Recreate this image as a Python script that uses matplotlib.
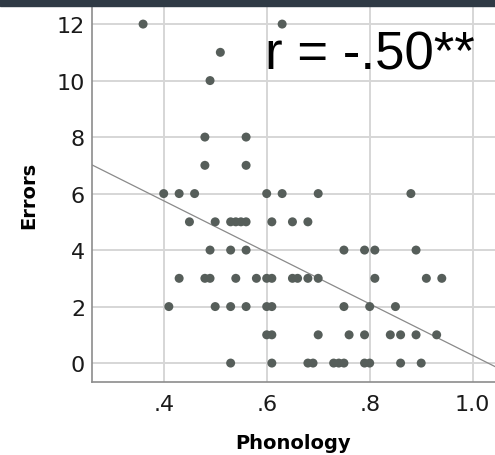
import numpy as np
import matplotlib
matplotlib.use("Agg")
import matplotlib.pyplot as plt
from matplotlib.patches import Rectangle

# Phonology score per child, grouped by Errors value
phon_12 = [0.36, 0.63]
phon_11 = [0.51]
phon_10 = [0.49]
phon_8 = [0.48, 0.56]
phon_7 = [0.48, 0.56]
phon_6 = [0.40, 0.43, 0.46, 0.60, 0.63, 0.70, 0.88]
phon_5 = [0.45, 0.50, 0.53, 0.54, 0.55, 0.56, 0.61, 0.65, 0.68]
phon_4 = [0.49, 0.53, 0.56, 0.75, 0.79, 0.81, 0.89]
phon_3 = [0.43, 0.48, 0.49, 0.54, 0.58, 0.60, 0.61, 0.65, 0.66, 0.68, 0.70, 0.81, 0.91, 0.94]
phon_2 = [0.41, 0.50, 0.53, 0.56, 0.60, 0.61, 0.75, 0.80, 0.85]
phon_1 = [0.60, 0.61, 0.70, 0.76, 0.79, 0.84, 0.86, 0.89, 0.93]
phon_0 = [0.53, 0.61, 0.68, 0.69, 0.73, 0.74, 0.75, 0.79, 0.80, 0.86, 0.90]

groups = {12: phon_12, 11: phon_11, 10: phon_10, 8: phon_8, 7: phon_7, 6: phon_6,
          5: phon_5, 4: phon_4, 3: phon_3, 2: phon_2, 1: phon_1, 0: phon_0}

x_ticks = [0.4, 0.6, 0.8, 1.0]
x_ticklabels = [".4", ".6", ".8", "1.0"]
y_ticks = [0, 2, 4, 6, 8, 10, 12]
r_label = "r = -.50**"

phon = np.array([v for k, vals in groups.items() for v in vals])
errs = np.array([k for k, vals in groups.items() for v in vals], dtype=float)

fig = plt.figure(figsize=(4.95, 4.56), dpi=100)
fig.patches.append(Rectangle((0, 449 / 456), 1, 7 / 456, transform=fig.transFigure,
                             color="#2f3a45", zorder=0))

ax = fig.add_axes([92 / 495, 73 / 456, 403 / 495, 376 / 456])
ax.set_xlim(0.2608, 1.0433)
ax.set_ylim(-0.67, 12.64)

ax.grid(True, color="#d6d6d6", linewidth=1.4)
ax.set_axisbelow(True)

ax.scatter(phon, errs, s=42, color="#565e5a", edgecolors="none", zorder=3)

slope, icpt = np.polyfit(phon, errs, 1)
xs = np.array(ax.get_xlim())
ax.plot(xs, icpt + slope * xs, color="#8a8a8a", linewidth=0.9, zorder=2)

ax.set_xticks(x_ticks)
ax.set_xticklabels(x_ticklabels)
ax.set_yticks(y_ticks)
ax.tick_params(length=0, labelsize=16, labelcolor="#1a1a1a")
ax.tick_params(axis="x", pad=9)
ax.tick_params(axis="y", pad=5)

for s in ["top", "right"]:
    ax.spines[s].set_visible(False)
for s in ["left", "bottom"]:
    ax.spines[s].set_color("#8c8c8c")
    ax.spines[s].set_linewidth(1.2)

ax.set_xlabel("Phonology", fontsize=14, fontweight="bold", labelpad=13)
ax.set_ylabel("Errors", fontsize=14, fontweight="bold", labelpad=13)

ax.text(0.597, 10.41, r_label, fontsize=38, family="Liberation Sans",
        va="baseline", ha="left", color="black")

fig.savefig("out.png", dpi=100)
